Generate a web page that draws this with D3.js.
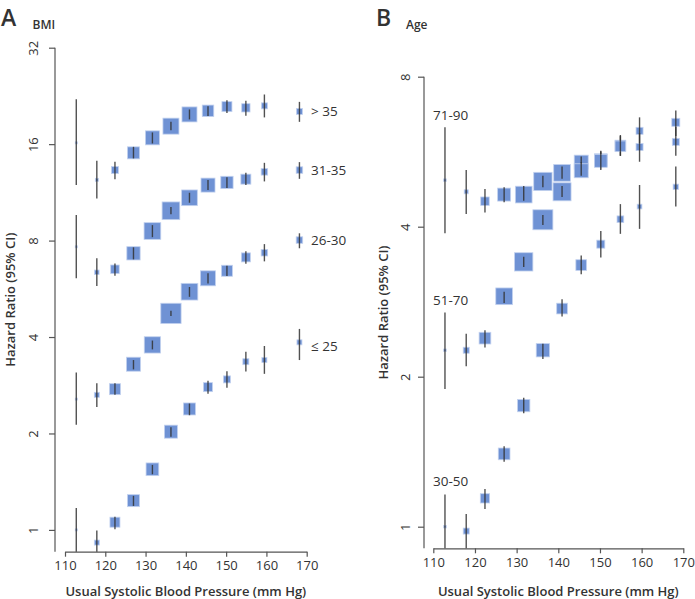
<!DOCTYPE html>
<html>
<head>
<meta charset="utf-8">
<script src="https://cdn.jsdelivr.net/npm/d3@7"></script>
<style>
  html, body { margin: 0; padding: 0; background: #fff; }
  svg { display: block; font-family: "Open Sans", "Noto Sans", sans-serif; }
</style>
</head>
<body>
<svg id="chart" width="695" height="599"></svg>
<script>
// ---------- DATA ----------
const sbp = [112.8, 117.9, 122.4, 127.0, 131.7, 136.3, 140.9, 145.5, 150.2, 154.9, 159.5, 168.2];
const xTicks = [110, 120, 130, 140, 150, 160, 170];

// Panel A: BMI groups
const bmiTicks = [1, 2, 4, 8, 16, 32];
const bmiGroups = ["> 35", "31-35", "26-30", "\u2264 25"];
const bmiGt35Hr = [16.15, 12.38, 13.28, 15.03, 16.74, 18.21, 19.81, 20.33, 20.95, 20.77, 21.07, 20.24];
const bmiGt35Lo = [11.92, 10.83, 12.44, 14.44, 16.08, 17.69, 19.11, 19.57, 20.03, 19.61, 19.39, 18.78];
const bmiGt35Hi = [22.10, 14.19, 14.09, 15.69, 17.40, 18.78, 20.53, 21.02, 21.95, 21.84, 22.86, 21.68];
const bmiGt35W  = [2, 3, 7, 12, 14, 16, 15, 11.5, 10, 8.3, 6, 6];

const bmi3135Hr = [7.65, 6.37, 6.51, 7.30, 8.57, 9.91, 10.88, 11.92, 12.15, 12.44, 13.11, 13.28];
const bmi3135Lo = [6.10, 5.77, 6.21, 6.99, 8.20, 9.66, 10.50, 11.50, 11.67, 11.92, 12.24, 12.47];
const bmi3135Hi = [9.61, 7.04, 6.79, 7.62, 8.94, 10.18, 11.28, 12.36, 12.62, 13.02, 13.99, 14.06];
const bmi3135W  = [2, 4.5, 8.5, 13.3, 16.7, 17.7, 15.7, 14, 12.3, 10, 6.5, 6.5];

const bmi2630Hr = [2.56, 2.64, 2.75, 3.29, 3.78, 4.74, 5.54, 6.10, 6.44, 7.09, 7.33, 8.03];
const bmi2630Lo = [2.13, 2.42, 2.64, 3.17, 3.66, 4.65, 5.34, 5.88, 6.20, 6.77, 6.89, 7.57];
const bmi2630Hi = [3.10, 2.87, 2.87, 3.39, 3.90, 4.83, 5.73, 6.33, 6.68, 7.41, 7.80, 8.43];
const bmi2630W  = [2, 5, 11, 14, 16.3, 20.3, 16.7, 15, 11, 9, 6.5, 6.5];

const bmiLe25Hr = [1.00, 0.913, 1.057, 1.234, 1.546, 2.026, 2.385, 2.79, 2.95, 3.35, 3.39, 3.85];
const bmiLe25Lo = [0.78, 0.80, 1.005, 1.188, 1.492, 1.955, 2.28, 2.66, 2.78, 3.12, 3.07, 3.39];
const bmiLe25Hi = [1.17, 0.995, 1.10, 1.277, 1.595, 2.09, 2.48, 2.92, 3.13, 3.60, 3.75, 4.24];
const bmiLe25W  = [2, 5, 10, 12, 12.7, 13, 12, 9, 7, 6, 5, 5];

// Panel B: Age groups
const ageTicks = [1, 2, 4, 8];
const ageGroups = ["71-90", "51-70", "30-50"];
const age7190Hr = [4.96, 4.70, 4.50, 4.64, 4.64, 4.93, 5.13, 5.39, 5.44, 5.82, 6.23, 6.48];
const age7190Lo = [3.88, 4.24, 4.27, 4.48, 4.51, 4.80, 4.99, 5.20, 5.24, 5.55, 5.81, 6.08];
const age7190Hi = [6.33, 5.20, 4.76, 4.80, 4.83, 5.06, 5.28, 5.53, 5.68, 6.11, 6.63, 6.84];
const age7190W  = [2.5, 4, 8.5, 13, 16.7, 18.3, 16.7, 14, 12.7, 10.7, 7, 8];

const age5170Hr = [2.26, 2.26, 2.39, 2.90, 3.40, 4.13, 4.70, 5.18, 5.42, 5.80, 5.78, 5.92];
const age5170Lo = [1.89, 2.10, 2.29, 2.81, 3.32, 4.03, 4.59, 5.06, 5.20, 5.55, 5.40, 5.55];
const age5170Hi = [2.69, 2.44, 2.48, 2.96, 3.48, 4.22, 4.83, 5.39, 5.66, 6.08, 6.17, 6.34];
const age5170W  = [2.5, 6, 11.7, 16.7, 18.3, 20, 18, 14, 12.7, 10.7, 7, 7];

const age3050Hr = [1.00, 0.98, 1.14, 1.40, 1.75, 2.26, 2.74, 3.35, 3.69, 4.14, 4.39, 4.81];
const age3050Lo = [0.80, 0.84, 1.085, 1.35, 1.69, 2.17, 2.64, 3.21, 3.47, 3.87, 3.96, 4.39];
const age3050Hi = [1.16, 1.06, 1.19, 1.45, 1.815, 2.33, 2.86, 3.50, 3.92, 4.44, 4.85, 5.28];
const age3050W  = [2.5, 6, 9.3, 11.7, 12.3, 13.3, 10.7, 10.7, 8, 6.7, 4.7, 5.3];

// ---------- DRAW ----------
const svg = d3.select("#chart");
const FILL = "#6f92d4", EDGE = "#c3d2ef", INK = "#333", AXIS = "#555";

function series(hr, lo, hi, w) {
  return sbp.map((x, i) => ({ x, hr: hr[i], lo: lo[i], hi: hi[i], w: w[i] }));
}

function panel(cfg) {
  const x = d3.scaleLinear().domain([110, 170]).range([cfg.x0, cfg.x1]);
  const y = d3.scaleLog().base(2).domain(cfg.yDomain).range([cfg.yBottom, cfg.yTop]).clamp(true);
  const size = d3.scaleLinear().domain([0, 20]).range([0, 20]);
  const g = svg.append("g");

  // y axis
  const ya = g.append("g").attr("transform", `translate(${cfg.yAxisX},0)`)
    .call(d3.axisLeft(y).tickValues(cfg.yTicks).tickFormat(d3.format("d")).tickSize(6).tickSizeOuter(0));
  ya.select(".domain").attr("stroke", AXIS).attr("stroke-width", 1.2)
    .attr("d", `M0,${y(cfg.yTicks[cfg.yTicks.length - 1])}V${cfg.yBottom}`);
  ya.selectAll(".tick line").attr("stroke", AXIS).attr("stroke-width", 1.2);
  ya.selectAll(".tick text")
    .attr("x", null).attr("dy", null)
    .attr("transform", `translate(${cfg.tickLabelX - cfg.yAxisX},0) rotate(-90)`)
    .attr("text-anchor", "middle").attr("dominant-baseline", "central")
    .style("font-size", "13px").attr("fill", INK).style("font-family", '"Open Sans", sans-serif');

  // x axis
  const xa = g.append("g").attr("transform", `translate(0,${cfg.yBottom})`)
    .call(d3.axisBottom(x).tickValues(xTicks).tickFormat(d3.format("d")).tickSize(5).tickSizeOuter(0));
  xa.select(".domain").attr("stroke", AXIS).attr("stroke-width", 1.2);
  xa.selectAll(".tick line").attr("stroke", AXIS).attr("stroke-width", 1.2);
  xa.selectAll(".tick text").attr("y", 9).style("font-size", "13px").attr("fill", INK)
    .style("font-family", '"Open Sans", sans-serif');

  // axis titles
  g.append("text").attr("x", (cfg.x0 + cfg.x1) / 2).attr("y", 596)
    .attr("text-anchor", "middle").attr("fill", INK)
    .style("font-size", "13px").style("font-weight", 600)
    .text("Usual Systolic Blood Pressure (mm Hg)");
  const ymid = (y(cfg.yTicks[cfg.yTicks.length - 1]) + cfg.yBottom) / 2;
  g.append("text").attr("transform", `translate(${cfg.yTitleX},${ymid}) rotate(-90)`)
    .attr("text-anchor", "middle").attr("dominant-baseline", "central").attr("fill", INK)
    .style("font-size", "13px").style("font-weight", 600)
    .text("Hazard Ratio (95% CI)");

  // panel letter & subtitle
  g.append("text").attr("x", cfg.letterX).attr("y", 25.5).attr("fill", INK)
    .style("font-size", "23px").style("font-weight", 600).text(cfg.letter);
  g.append("text").attr("x", cfg.subX).attr("y", 28.5).attr("fill", INK)
    .style("font-size", "12px").style("font-weight", 600).text(cfg.sub);

  // series
  cfg.series.forEach((s) => {
    const data = series(...s);
    const sg = g.append("g");
    sg.selectAll("rect").data(data).join("rect")
      .attr("x", d => x(d.x) - size(d.w) / 2)
      .attr("y", d => y(d.hr) - size(d.w) / 2)
      .attr("width", d => size(d.w)).attr("height", d => size(d.w))
      .attr("fill", FILL).attr("stroke", EDGE).attr("stroke-width", 0.8);
    sg.selectAll("line").data(data).join("line")
      .attr("x1", d => x(d.x)).attr("x2", d => x(d.x))
      .attr("y1", d => y(d.lo)).attr("y2", d => y(d.hi))
      .attr("stroke", INK).attr("stroke-opacity", 0.85).attr("stroke-width", 1.4);
  });

  // group labels
  (cfg.labelPos || []).forEach((p, k) => {
    g.append("text").attr("x", p[0]).attr("y", p[1])
      .attr("dominant-baseline", "central").attr("fill", INK)
      .style("font-size", "13.5px").text(cfg.labels[k]);
  });
  return { x, y };
}

const pA = panel({
  x0: 65, x1: 306.7, yAxisX: 55, tickLabelX: 33, yTitleX: 10,
  yDomain: [0.855, 32], yTop: 47.7, yBottom: 551.7, yTicks: bmiTicks,
  letter: "A", letterX: 1, sub: "BMI", subX: 32.5,
  series: [
    [bmiGt35Hr, bmiGt35Lo, bmiGt35Hi, bmiGt35W],
    [bmi3135Hr, bmi3135Lo, bmi3135Hi, bmi3135W],
    [bmi2630Hr, bmi2630Lo, bmi2630Hi, bmi2630W],
    [bmiLe25Hr, bmiLe25Lo, bmiLe25Hi, bmiLe25W]
  ],
  labels: bmiGroups,
  labelPos: []
});
// BMI labels next to the last point of each series
[bmiGt35Hr, bmi3135Hr, bmi2630Hr, bmiLe25Hr].forEach((hr, k) => {
  svg.append("text").attr("x", pA.x(sbp[sbp.length - 1]) + 11.5)
    .attr("y", pA.y(hr[hr.length - 1]) + (k === 3 ? 4 : 0))
    .attr("dominant-baseline", "central").attr("fill", INK)
    .style("font-size", "13.5px").text(bmiGroups[k]);
});

const pB = panel({
  x0: 433.3, x1: 683.3, yAxisX: 424, tickLabelX: 405, yTitleX: 383,
  yDomain: [0.905, 8], yTop: 76.7, yBottom: 548.3, yTicks: ageTicks,
  letter: "B", letterX: 376, sub: "Age", subX: 406,
  series: [
    [age7190Hr, age7190Lo, age7190Hi, age7190W],
    [age5170Hr, age5170Lo, age5170Hi, age5170W],
    [age3050Hr, age3050Lo, age3050Hi, age3050W]
  ],
  labels: ageGroups,
  labelPos: [[433, 115], [433, 299.5], [433, 480.5]]
});
</script>
</body>
</html>
